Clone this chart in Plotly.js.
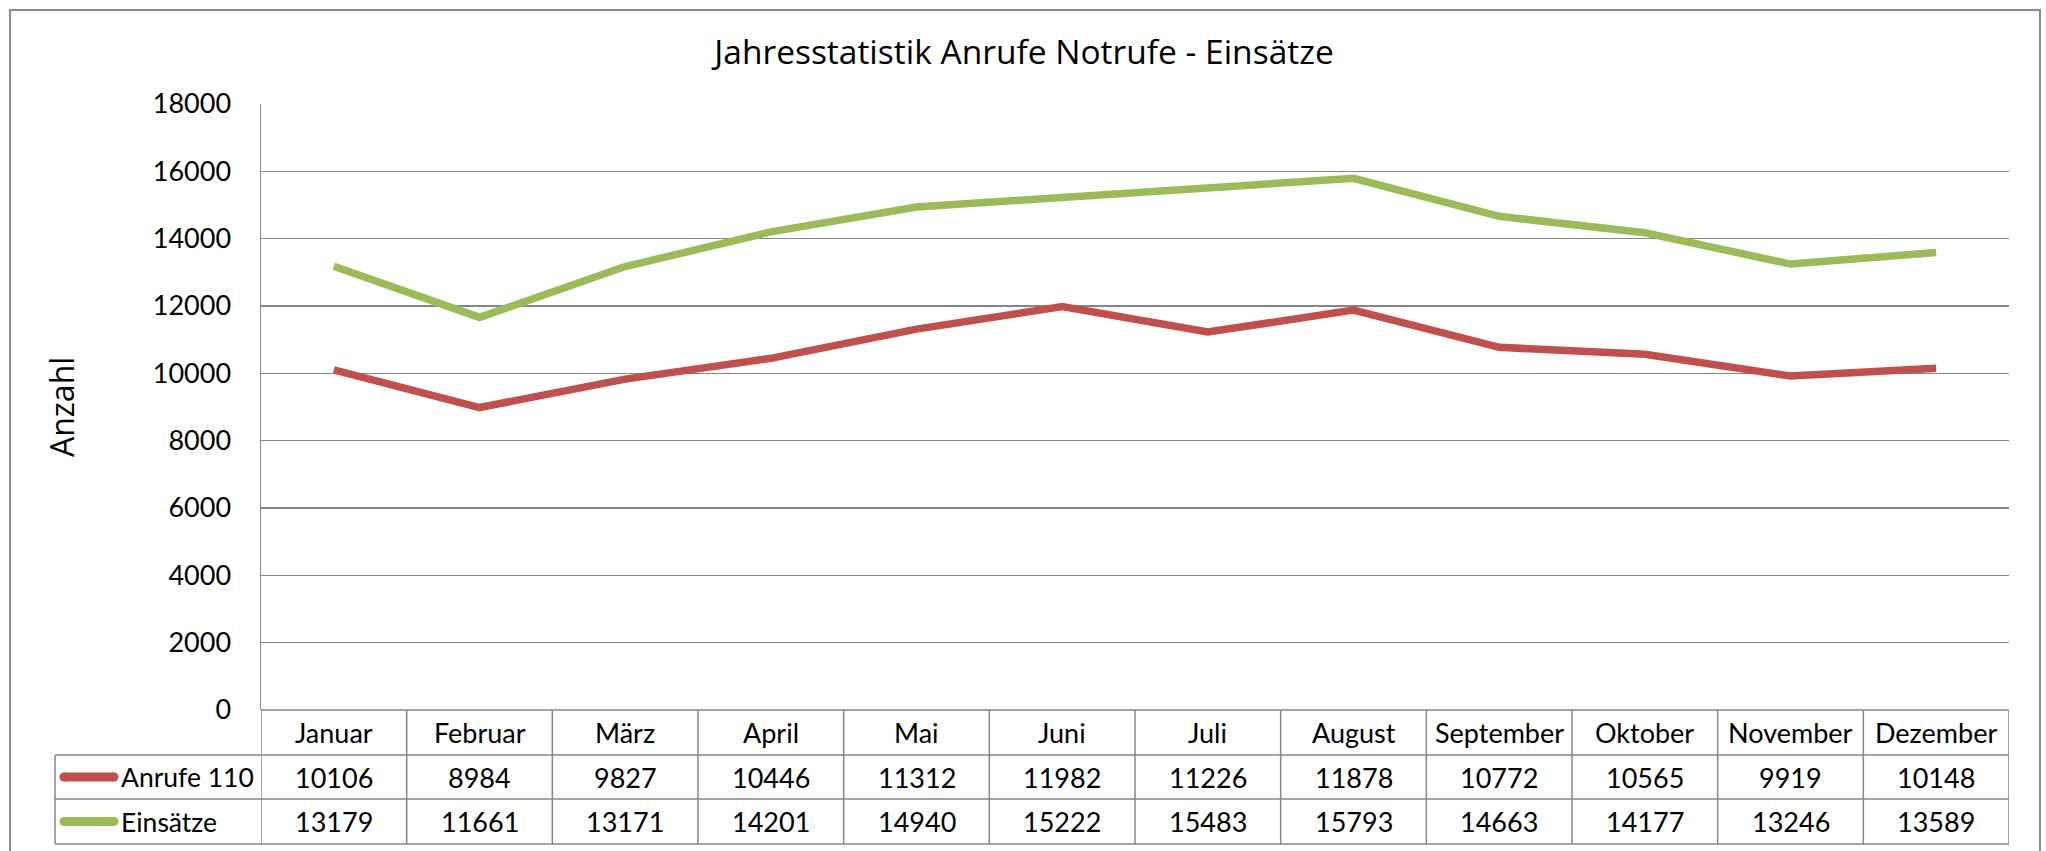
<!DOCTYPE html>
<html>
<head>
<meta charset="utf-8">
<script src="https://cdn.plot.ly/plotly-3.0.1.min.js"></script>
<style>html,body{margin:0;padding:0;background:#fff;}#chart{width:2046px;height:851px;}</style>
</head>
<body>
<div id="chart"></div>
<script>
const months = ["Januar","Februar","März","April","Mai","Juni","Juli","August","September","Oktober","November","Dezember"];
const anrufe = [10106, 8984, 9827, 10446, 11312, 11982, 11226, 11878, 10772, 10565, 9919, 10148];
const einsaetze = [13179, 11661, 13171, 14201, 14940, 15222, 15483, 15793, 14663, 14177, 13246, 13589];
const seriesNames = ["Anrufe 110", "Einsätze"];
const seriesColors = ["#C0504D", "#9BBB59"];
const seriesValues = [anrufe, einsaetze];
const yTicks = [0, 2000, 4000, 6000, 8000, 10000, 12000, 14000, 16000, 18000];

const W = 2046, H = 851;
const plotL = 261, plotR = 2009, plotT = 104, plotB = 710;
const pw = plotR - plotL, ph = plotB - plotT;
const px = p => (p - plotL) / pw;   // pixel x -> paper x
const py = p => (plotB - p) / ph;   // pixel y -> paper y

const rowTops = [710, 755, 799, 844];
const tableLeft = 55;
const gridCol = "#868686";
const FONT = "Lato, 'Open Sans', sans-serif";
const TFONT = "'Open Sans', Lato, sans-serif";

const traces = seriesValues.map((vals, i) => ({
  type: "scatter", mode: "lines", x: months, y: vals, name: seriesNames[i],
  line: {color: seriesColors[i], width: 7.5}, hoverinfo: "x+y"
}));

const shapes = [];
const annotations = [];
// outer chart border
shapes.push({type: "rect", xref: "paper", yref: "paper", x0: px(10), x1: px(2040), y0: py(870), y1: py(10),
  line: {color: "#8a8a8a", width: 2}, fillcolor: "rgba(0,0,0,0)", layer: "below"});
// table horizontal lines
shapes.push({type: "line", xref: "paper", yref: "paper", x0: 0, x1: 1, y0: py(rowTops[0]), y1: py(rowTops[0]), line: {color: gridCol, width: 1.5}});
for (let r = 1; r < rowTops.length; r++) {
  shapes.push({type: "line", xref: "paper", yref: "paper", x0: px(tableLeft), x1: 1, y0: py(rowTops[r]), y1: py(rowTops[r]), line: {color: gridCol, width: 1.5}});
}
// table vertical lines
for (let c = 0; c <= months.length; c++) {
  shapes.push({type: "line", xref: "x", yref: "paper", x0: c - 0.5, x1: c - 0.5, y0: py(rowTops[0]), y1: py(rowTops[3]), line: {color: gridCol, width: 1.5}});
}
shapes.push({type: "line", xref: "paper", yref: "paper", x0: px(tableLeft), x1: px(tableLeft), y0: py(rowTops[1]), y1: py(rowTops[3]), line: {color: gridCol, width: 1.5}});

// header labels
months.forEach((m, i) => {
  annotations.push({xref: "x", yref: "paper", x: m, y: py((rowTops[0] + rowTops[1]) / 2), text: m, showarrow: false,
    font: {family: FONT, size: 27, color: "#000"}, xanchor: "center", yanchor: "middle"});
});
// data rows
seriesValues.forEach((vals, r) => {
  const ycp = (rowTops[r + 1] + rowTops[r + 2]) / 2;
  const yc = py(ycp);
  vals.forEach((v, i) => {
    annotations.push({xref: "x", yref: "paper", x: months[i], y: yc, text: String(v), showarrow: false,
      font: {family: FONT, size: 27, color: "#000"}, xanchor: "center", yanchor: "middle"});
  });
  // legend key with rounded ends
  shapes.push({type: "line", xref: "paper", yref: "paper", x0: px(64), x1: px(114), y0: yc, y1: yc,
    line: {color: seriesColors[r], width: 9}});
  [59.5, 109.5].forEach(cx => {
    shapes.push({type: "circle", xref: "paper", yref: "paper", x0: px(cx), x1: px(cx + 9), y0: py(ycp + 4.5), y1: py(ycp - 4.5),
      line: {width: 0}, fillcolor: seriesColors[r]});
  });
  annotations.push({xref: "paper", yref: "paper", x: px(119), y: yc, text: seriesNames[r], showarrow: false,
    font: {family: FONT, size: 26.5, color: "#000"}, xanchor: "left", yanchor: "middle"});
});

// y axis title
annotations.push({xref: "paper", yref: "paper", x: px(61), y: py(407), text: "Anzahl", textangle: -90, showarrow: false,
  font: {family: TFONT, size: 32, color: "#000"}, xanchor: "center", yanchor: "middle"});

const layout = {
  width: W, height: H,
  margin: {l: plotL, r: W - plotR, t: plotT, b: H - plotB, pad: 0},
  paper_bgcolor: "#fff", plot_bgcolor: "#fff",
  showlegend: false,
  title: {text: "Jahresstatistik Anrufe Notrufe - Einsätze", x: 1024 / W, xanchor: "center", y: 1 - 52 / H, yanchor: "middle",
    font: {family: TFONT, size: 33.5, color: "#000"}},
  xaxis: {type: "category", range: [-0.5, months.length - 0.5], showticklabels: false, ticks: "", showgrid: false,
    zeroline: false, showline: false, fixedrange: true},
  yaxis: {range: [0, 18000], tickvals: yTicks, ticktext: yTicks.map(String), showgrid: true, gridcolor: gridCol, gridwidth: 1.5,
    zeroline: false, showline: true, linecolor: gridCol, linewidth: 1.5, ticks: "", ticklabelstandoff: 23,
    tickfont: {family: FONT, size: 27, color: "#000"}, fixedrange: true},
  shapes: shapes,
  annotations: annotations
};

Plotly.newPlot("chart", traces, layout, {displayModeBar: false, staticPlot: true});
</script>
</body>
</html>
